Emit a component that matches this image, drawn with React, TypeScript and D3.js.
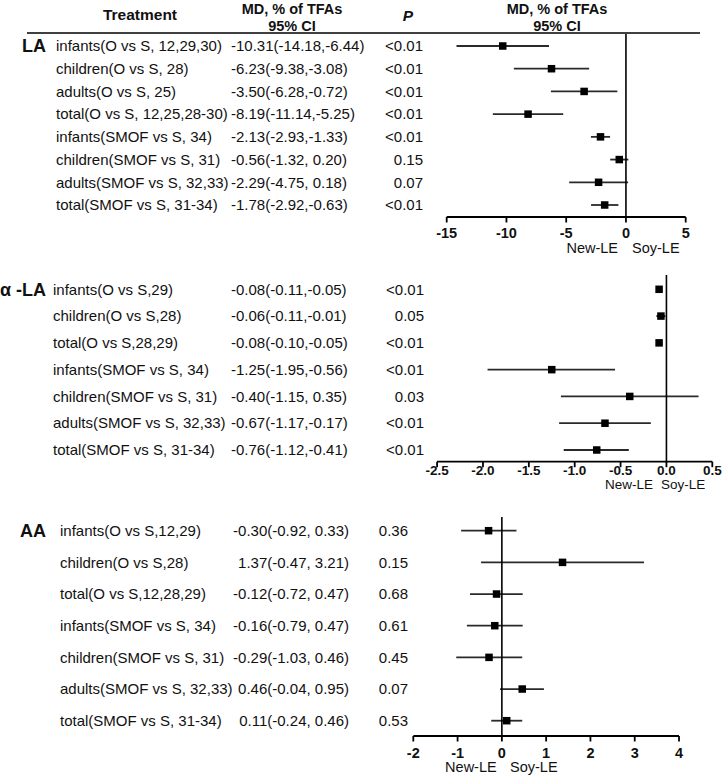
import React from "react";
import * as d3 from "d3";

// ---------- data ----------
const LA_LABELS = [
  "infants(O vs S, 12,29,30)",
  "children(O vs S, 28)",
  "adults(O vs S, 25)",
  "total(O vs S, 12,25,28-30)",
  "infants(SMOF vs S, 34)",
  "children(SMOF vs S, 31)",
  "adults(SMOF vs S, 32,33)",
  "total(SMOF vs S, 31-34)",
];
const LA_MD = [-10.31, -6.23, -3.5, -8.19, -2.13, -0.56, -2.29, -1.78];
const LA_LO = [-14.18, -9.38, -6.28, -11.14, -2.93, -1.32, -4.75, -2.92];
const LA_HI = [-6.44, -3.08, -0.72, -5.25, -1.33, 0.2, 0.18, -0.63];
const LA_P = ["<0.01", "<0.01", "<0.01", "<0.01", "<0.01", "0.15", "0.07", "<0.01"];
const LA_TICKS = [-15, -10, -5, 0, 5];

const ALA_LABELS = [
  "infants(O vs S,29)",
  "children(O vs S,28)",
  "total(O vs S,28,29)",
  "infants(SMOF vs S, 34)",
  "children(SMOF vs S, 31)",
  "adults(SMOF vs S, 32,33)",
  "total(SMOF vs S, 31-34)",
];
const ALA_MD = [-0.08, -0.06, -0.08, -1.25, -0.4, -0.67, -0.76];
const ALA_LO = [-0.11, -0.11, -0.1, -1.95, -1.15, -1.17, -1.12];
const ALA_HI = [-0.05, -0.01, -0.05, -0.56, 0.35, -0.17, -0.41];
const ALA_P = ["<0.01", "0.05", "<0.01", "<0.01", "0.03", "<0.01", "<0.01"];
const ALA_TICKS = [-2.5, -2.0, -1.5, -1.0, -0.5, 0.0, 0.5];

const AA_LABELS = [
  "infants(O vs S,12,29)",
  "children(O vs S,28)",
  "total(O vs S,12,28,29)",
  "infants(SMOF vs S, 34)",
  "children(SMOF vs S, 31)",
  "adults(SMOF vs S, 32,33)",
  "total(SMOF vs S, 31-34)",
];
const AA_MD = [-0.3, 1.37, -0.12, -0.16, -0.29, 0.46, 0.11];
const AA_LO = [-0.92, -0.47, -0.72, -0.79, -1.03, -0.04, -0.24];
const AA_HI = [0.33, 3.21, 0.47, 0.47, 0.46, 0.95, 0.46];
const AA_P = ["0.36", "0.15", "0.68", "0.61", "0.45", "0.07", "0.53"];
const AA_TICKS = [-2, -1, 0, 1, 2, 3, 4];

const HEADERS = ["Treatment", "MD, % of TFAs", "95% CI", "P"];
const SIDES = ["New-LE", "Soy-LE"];

// ---------- helpers ----------
const FONT = "'Liberation Sans', Arial, Helvetica, sans-serif";
const f2 = (v: number) => v.toFixed(2);
const mdText = (m: number, lo: number, hi: number) =>
  `${f2(m)}(${f2(lo)},${hi >= 0 ? " " : ""}${f2(hi)})`;

type PanelProps = {
  name: string;
  labels: string[];
  md: number[];
  lo: number[];
  hi: number[];
  p: string[];
  ticks: number[];
  tickFmt: (v: number) => string;
  xRange: [number, number];
  rowY: [number, number];
  axisY: number;
  zeroTop: number;
  tickLabelY: number;
  tickFont: number;
  sideY: number;
  sideFont: number;
  newEnd: number;
  soyStart: number;
  labelX: number;
  mdX: number;
  mdAnchor: "start" | "end";
  pX: number;
};

function Panel(props: PanelProps) {
  const {
    name, labels, md, lo, hi, p, ticks, tickFmt, xRange, rowY, axisY,
    zeroTop, tickLabelY, tickFont, sideY, sideFont, newEnd, soyStart,
    labelX, mdX, mdAnchor, pX,
  } = props;
  const x = d3
    .scaleLinear()
    .domain([ticks[0], ticks[ticks.length - 1]])
    .range(xRange);
  const y = d3.scaleLinear().domain([0, labels.length - 1]).range(rowY);
  const sq = 7.5;
  return (
    <g>
      <text
        x={46}
        y={y(0)}
        dy="0.35em"
        textAnchor="end"
        fontWeight="bold"
        fontSize={18}
      >
        {name}
      </text>
      {labels.map((l, i) => (
        <g key={i}>
          <text x={labelX} y={y(i)} dy="0.35em" fontSize={15}>
            {l}
          </text>
          <text x={mdX} y={y(i)} dy="0.35em" fontSize={15} textAnchor={mdAnchor}>
            {mdText(md[i], lo[i], hi[i])}
          </text>
          <text x={pX} y={y(i)} dy="0.35em" fontSize={15} textAnchor="end">
            {p[i]}
          </text>
          <line
            x1={x(lo[i])}
            x2={x(hi[i])}
            y1={y(i)}
            y2={y(i)}
            stroke="#2a2a2a"
            strokeWidth={1.8}
          />
          <rect
            x={x(md[i]) - sq / 2}
            y={y(i) - sq / 2}
            width={sq}
            height={sq}
            fill="#000"
          />
        </g>
      ))}
      {/* zero line */}
      <line x1={x(0)} x2={x(0)} y1={zeroTop} y2={axisY} stroke="#000" strokeWidth={1.6} />
      {/* axis */}
      <line x1={xRange[0]} x2={xRange[1]} y1={axisY} y2={axisY} stroke="#000" strokeWidth={1.8} />
      {ticks.map((t, i) => (
        <g key={i}>
          <line x1={x(t)} x2={x(t)} y1={axisY} y2={axisY + 5.5} stroke="#000" strokeWidth={1.8} />
          <text
            x={x(t)}
            y={tickLabelY}
            dy="0.35em"
            textAnchor="middle"
            fontWeight="bold"
            fontSize={tickFont}
          >
            {tickFmt(t)}
          </text>
        </g>
      ))}
      <text x={newEnd} y={sideY} dy="0.35em" textAnchor="end" fontSize={sideFont}>
        {SIDES[0]}
      </text>
      <text x={soyStart} y={sideY} dy="0.35em" textAnchor="start" fontSize={sideFont}>
        {SIDES[1]}
      </text>
    </g>
  );
}

export default function App() {
  return (
    <svg
      width={724}
      height={777}
      viewBox="0 0 724 777"
      style={{ position: "absolute", left: 0, top: 0, background: "#fff" }}
      fontFamily={FONT}
      fill="#111"
    >
      <rect x={0} y={0} width={724} height={777} fill="#fff" />
      {/* header */}
      <g fontWeight="bold" fontSize={14.5} textAnchor="middle">
        <text x={140} y={15} dy="0.35em" fontSize={15.5}>{HEADERS[0]}</text>
        <text x={292} y={9} dy="0.35em">{HEADERS[1]}</text>
        <text x={292} y={25.5} dy="0.35em">{HEADERS[2]}</text>
        <text x={408} y={16} dy="0.35em" fontStyle="italic" fontSize={15.5}>{HEADERS[3]}</text>
        <text x={557} y={9} dy="0.35em">{HEADERS[1]}</text>
        <text x={557} y={25.5} dy="0.35em">{HEADERS[2]}</text>
      </g>
      <line x1={27} x2={700} y1={33} y2={33} stroke="#000" strokeWidth={1.5} />

      <Panel
        name="LA"
        labels={LA_LABELS}
        md={LA_MD}
        lo={LA_LO}
        hi={LA_HI}
        p={LA_P}
        ticks={LA_TICKS}
        tickFmt={(v) => String(v)}
        xRange={[446.7, 685.7]}
        rowY={[46, 205]}
        axisY={217}
        zeroTop={34}
        tickLabelY={232.5}
        tickFont={14.5}
        sideY={248}
        sideFont={14.5}
        newEnd={618}
        soyStart={632}
        labelX={56}
        mdX={231}
        mdAnchor="start"
        pX={423}
      />
      <Panel
        name="α -LA"
        labels={ALA_LABELS}
        md={ALA_MD}
        lo={ALA_LO}
        hi={ALA_HI}
        p={ALA_P}
        ticks={ALA_TICKS}
        tickFmt={(v) => v.toFixed(1)}
        xRange={[437.1, 712.3]}
        rowY={[289.3, 450]}
        axisY={461.7}
        zeroTop={275}
        tickLabelY={470}
        tickFont={13.5}
        sideY={484.5}
        sideFont={13.5}
        newEnd={653}
        soyStart={661}
        labelX={53}
        mdX={231}
        mdAnchor="start"
        pX={424}
      />
      <Panel
        name="AA"
        labels={AA_LABELS}
        md={AA_MD}
        lo={AA_LO}
        hi={AA_HI}
        p={AA_P}
        ticks={AA_TICKS}
        tickFmt={(v) => String(v)}
        xRange={[413.3, 679]}
        rowY={[530.7, 720.7]}
        axisY={736}
        zeroTop={517}
        tickLabelY={752.5}
        tickFont={14.5}
        sideY={767}
        sideFont={14.5}
        newEnd={496.7}
        soyStart={510}
        labelX={60}
        mdX={349}
        mdAnchor="end"
        pX={408}
      />
    </svg>
  );
}
